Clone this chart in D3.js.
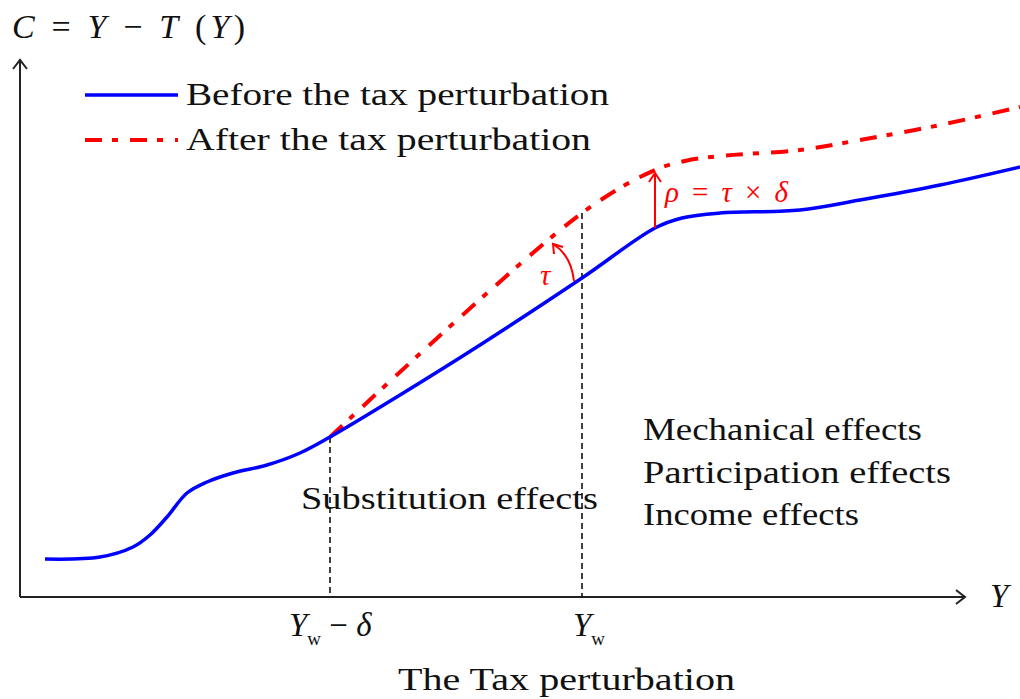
<!DOCTYPE html>
<html><head>
<meta charset="utf-8">
<script src="https://d3js.org/d3.v7.min.js"></script>
<style>
  body { margin: 0; background: #fff; }
  text { font-family: "Liberation Serif", "Times New Roman", Times, serif; fill: #111; }
  .axis { stroke: #222; stroke-width: 2; fill: none; }
  .guide { stroke: #111; stroke-width: 1.6; stroke-dasharray: 6,4; }
</style>
</head>
<body>
<svg id="chart" width="1020" height="699"></svg>
<script>

// data (x = income Y, y = consumption C), arbitrary units 0..100
const beforeX = [2.5, 8, 11.3, 13, 14.7, 16.7, 18.7, 21.3, 24.7, 28, 31, 38, 46, 56.2, 63.5, 66.2, 70, 78, 84, 92, 100];
const beforeY = [7.6, 8, 10, 12.4, 16, 20.8, 23, 24.8, 26.4, 28.8, 32, 40.4, 50.4, 63.8, 73.8, 75.8, 76.8, 77.4, 79.4, 82.4, 86];
const afterX = [31, 56.2, 63.5, 66.5, 70, 78, 84, 92, 100];
const afterY = [32, 76.8, 85.4, 87.2, 88.2, 89.4, 91.4, 94.4, 98];
const ywMinusDelta = 31, yw = 56.2, rhoX = 63.5;
const legendLabels = ["Before the tax perturbation", "After the tax perturbation"];
const effectLabels = ["Mechanical effects", "Participation effects", "Income effects"];

const svg = d3.select("#chart");
const x = d3.scaleLinear().domain([0, 100]).range([20, 1020]);
const y = d3.scaleLinear().domain([0, 100]).range([597, 97]);

const before = beforeX.map((d, i) => [d, beforeY[i]]);
const after = afterX.map((d, i) => [d, afterY[i]]);
const line = d3.line().x(d => x(d[0])).y(d => y(d[1])).curve(d3.curveCatmullRom.alpha(0.5));

// axes with open arrow heads
const xEnd = 94.5, yEnd = 107.4;
svg.append("path").attr("class", "axis")
  .attr("d", `M${x(0)},${y(0)}H${x(xEnd)}M${x(xEnd)-9},${y(0)-7}L${x(xEnd)},${y(0)}L${x(xEnd)-9},${y(0)+7}`);
svg.append("path").attr("class", "axis")
  .attr("d", `M${x(0)},${y(0)}V${y(yEnd)}M${x(0)-7},${y(yEnd)+9}L${x(0)},${y(yEnd)}L${x(0)+7},${y(yEnd)+9}`);

// dashed guides
svg.append("line").attr("class", "guide")
  .attr("x1", x(ywMinusDelta)).attr("x2", x(ywMinusDelta)).attr("y1", y(afterY[0])).attr("y2", y(0));
svg.append("line").attr("class", "guide")
  .attr("x1", x(yw)).attr("x2", x(yw)).attr("y1", y(afterY[1])).attr("y2", y(0));

// curves
svg.append("path").attr("d", line(after)).attr("fill", "none")
  .attr("stroke", "#ff0000").attr("stroke-width", 4).attr("stroke-dasharray", "17,10,6,12");
svg.append("path").attr("d", line(before)).attr("fill", "none")
  .attr("stroke", "#0000ff").attr("stroke-width", 3.5);

// rho arrow
const red = "#ff0000";
const rx = x(rhoX), ry0 = y(beforeY[14]), ry1 = y(afterY[2]) + 3;
svg.append("path").attr("fill", "none").attr("stroke", red).attr("stroke-width", 2)
  .attr("d", `M${rx},${ry0}V${ry1}M${rx-6},${ry1+9}L${rx},${ry1}L${rx+6},${ry1+9}`);
const rhoText = svg.append("text").attr("x", rx + 10).attr("y", 202)
  .attr("textLength", 123).attr("lengthAdjust", "spacing")
  .style("font-size", "29px").style("fill", red);
rhoText.append("tspan").style("font-style", "italic").text("ρ");
rhoText.append("tspan").text(" = ");
rhoText.append("tspan").style("font-style", "italic").text("τ");
rhoText.append("tspan").text(" × ");
rhoText.append("tspan").style("font-style", "italic").text("δ");

// tau arc
const ax = x(yw) - 8, ay = y(beforeY[13]) + 3;
const ex = ax - 21, ey = ay - 37;
svg.append("path").attr("fill", "none").attr("stroke", red).attr("stroke-width", 2)
  .attr("d", `M${ax},${ay}Q${ax-3},${ay-26} ${ex},${ey}`);
svg.append("path").attr("fill", "none").attr("stroke", red).attr("stroke-width", 2)
  .attr("d", `M${ex+1},${ey+10}L${ex},${ey}L${ex+10},${ey+3}`);
svg.append("text").attr("x", x(yw) - 42).attr("y", 285)
  .style("font-size", "29px").style("font-style", "italic").style("fill", red).text("τ");

// legend
const legendYs = [95, 140];
svg.append("line").attr("x1", 85).attr("x2", 178).attr("y1", legendYs[0]).attr("y2", legendYs[0])
  .attr("stroke", "#0000ff").attr("stroke-width", 3.5);
svg.append("line").attr("x1", 85).attr("x2", 178).attr("y1", legendYs[1]).attr("y2", legendYs[1])
  .attr("stroke", red).attr("stroke-width", 4).attr("stroke-dasharray", "17,10,6,12");
const legendWidths = [423, 405];
legendLabels.forEach((t, i) => {
  svg.append("text").attr("x", 186).attr("y", legendYs[i] + 10)
    .attr("textLength", legendWidths[i]).attr("lengthAdjust", "spacingAndGlyphs")
    .style("font-size", "31px").text(t);
});

// effect labels
const effectWidths = [279, 308, 216];
effectLabels.forEach((t, i) => {
  svg.append("text").attr("x", 643).attr("y", 440 + i * 42.5)
    .attr("textLength", effectWidths[i]).attr("lengthAdjust", "spacingAndGlyphs")
    .style("font-size", "31px").text(t);
});
svg.append("text").attr("x", 301).attr("y", 509)
  .attr("textLength", 297).attr("lengthAdjust", "spacingAndGlyphs")
  .style("font-size", "31px").text("Substitution effects");
svg.append("text").attr("x", 398).attr("y", 690)
  .attr("textLength", 337).attr("lengthAdjust", "spacingAndGlyphs")
  .style("font-size", "31px").text("The Tax perturbation");

// axis titles
const eq = svg.append("text").attr("x", 12).attr("y", 38).style("font-size", "34px")
  .attr("textLength", 233).attr("lengthAdjust", "spacing");
eq.append("tspan").style("font-style", "italic").text("C");
eq.append("tspan").text(" = ");
eq.append("tspan").style("font-style", "italic").text("Y");
eq.append("tspan").text(" − ");
eq.append("tspan").style("font-style", "italic").text("T");
eq.append("tspan").text(" (");
eq.append("tspan").style("font-style", "italic").text("Y");
eq.append("tspan").text(")");
svg.append("text").attr("x", 990).attr("y", 607).style("font-size", "33px")
  .style("font-style", "italic").text("Y");

// Y_w tick labels
function ywLabel(px, suffix) {
  const t = svg.append("text").attr("x", px).attr("y", 636).style("font-size", "33px");
  t.append("tspan").style("font-style", "italic").text("Y");
  t.append("tspan").attr("dy", 9).style("font-size", "19px").text("w");
  if (suffix) {
    t.append("tspan").attr("dy", -9).text(" − ");
    t.append("tspan").style("font-style", "italic").text("δ");
  }
}
ywLabel(x(ywMinusDelta) - 41, true);
ywLabel(x(yw) - 9, false);

</script>
</body>
</html>
